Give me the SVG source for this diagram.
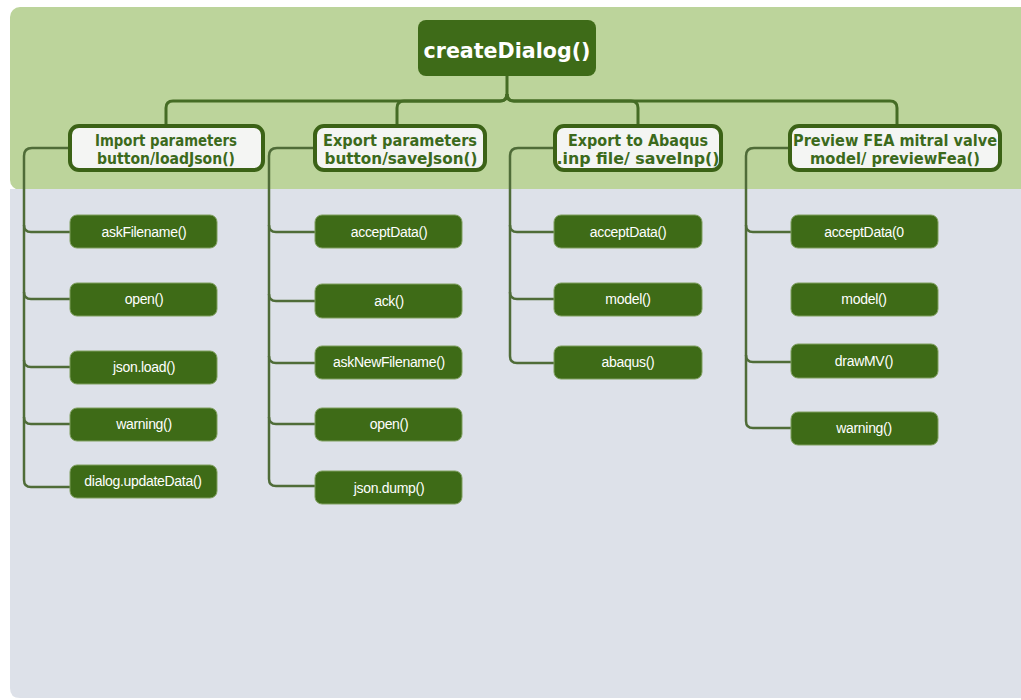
<svg xmlns="http://www.w3.org/2000/svg" width="1021" height="700" viewBox="0 0 1021 700">
  <defs>
    <style>
      .band { fill: #bcd49b; }
      .panel { fill: #dde1e9; }
      .root rect { fill: #3e6b18; }
      .root text { font-family: "DejaVu Sans", Verdana, sans-serif; font-weight: bold; font-size: 21px; fill: #ffffff; text-anchor: middle; }
      .branch rect { fill: #f4f5f3; stroke: #3b6216; stroke-width: 4; }
      .branch text { font-family: "DejaVu Sans", Verdana, sans-serif; font-weight: bold; font-size: 15px; fill: #3c6a1c; text-anchor: middle; }
      .leaf rect { fill: #3e6b17; stroke: #7f9f5f; stroke-width: 1; }
      .leaf text { font-family: "Liberation Sans", Arial, sans-serif; font-size: 14px; fill: #ffffff; text-anchor: middle; letter-spacing: -0.3px; }
      .top-link { fill: none; stroke: #456c25; stroke-width: 3; }
      .sub-link { fill: none; stroke: #4f6c38; stroke-width: 2.5; }
    </style>
  </defs>

  <!-- background bands -->
  <rect class="band" x="10" y="7" width="1030" height="183" rx="10"/>
  <path class="panel" d="M10,189 H1040 V698 H20 Q10,698 10,688 Z"/>

  <!-- connectors -->
  <g id="connectors">
    <path class="top-link" d="M507,76 V94 Q507,101 500,101 H173 Q166,101 166,108 V124"/>
    <path class="top-link" d="M507,94 Q507,101 500,101 H404 Q397,101 397,108 V124"/>
    <path class="top-link" d="M507,94 Q507,101 514,101 H631 Q638,101 638,108 V124"/>
    <path class="top-link" d="M507,94 Q507,101 514,101 H890 Q897,101 897,108 V124"/>

    <!-- import column -->
    <path class="sub-link" d="M68,148 H32 Q24,148 24,156 V480 Q24,487 31,487 H70"/>
    <path class="sub-link" d="M24,225 Q24,232 31,232 H70"/>
    <path class="sub-link" d="M24,292 Q24,299 31,299 H70"/>
    <path class="sub-link" d="M24,360 Q24,367 31,367 H70"/>
    <path class="sub-link" d="M24,417 Q24,424 31,424 H70"/>

    <!-- export parameters column -->
    <path class="sub-link" d="M313,148 H277 Q269,148 269,156 V479 Q269,486 276,486 H315"/>
    <path class="sub-link" d="M269,225 Q269,232 276,232 H315"/>
    <path class="sub-link" d="M269,294 Q269,301 276,301 H315"/>
    <path class="sub-link" d="M269,356 Q269,363 276,363 H315"/>
    <path class="sub-link" d="M269,417 Q269,424 276,424 H315"/>

    <!-- abaqus column -->
    <path class="sub-link" d="M553,148 H518 Q510,148 510,156 V356 Q510,363 517,363 H554"/>
    <path class="sub-link" d="M510,225 Q510,232 517,232 H554"/>
    <path class="sub-link" d="M510,292 Q510,299 517,299 H554"/>

    <!-- preview column -->
    <path class="sub-link" d="M788,148 H754 Q746,148 746,156 V421 Q746,428 753,428 H791"/>
    <path class="sub-link" d="M746,225 Q746,232 753,232 H791"/>
    <path class="sub-link" d="M746,355 Q746,362 753,362 H791"/>
  </g>

  <!-- root -->
  <g id="createDialog" class="root">
    <rect x="418" y="20" width="178" height="56" rx="8"/>
    <text x="507" y="58" textLength="167" lengthAdjust="spacingAndGlyphs">createDialog()</text>
  </g>

  <!-- first level -->
  <g id="importParameters" class="branch">
    <rect x="70" y="126" width="193" height="44" rx="9"/>
    <text x="166" y="146" textLength="142" lengthAdjust="spacingAndGlyphs">Import parameters</text>
    <text x="166" y="164" textLength="138" lengthAdjust="spacingAndGlyphs">button/loadJson()</text>
  </g>
  <g id="exportParameters" class="branch">
    <rect x="315" y="126" width="170" height="44" rx="9"/>
    <text x="400" y="146" textLength="154" lengthAdjust="spacingAndGlyphs">Export parameters</text>
    <text x="401" y="164" textLength="153" lengthAdjust="spacingAndGlyphs">button/saveJson()</text>
  </g>
  <g id="exportAbaqus" class="branch">
    <rect x="555" y="126" width="166" height="44" rx="9"/>
    <text x="638" y="146" textLength="140" lengthAdjust="spacingAndGlyphs">Export to Abaqus</text>
    <text x="638" y="164" textLength="163" lengthAdjust="spacingAndGlyphs">.inp file/ saveInp()</text>
  </g>
  <g id="previewFea" class="branch">
    <rect x="790" y="126" width="210" height="44" rx="9"/>
    <text x="895" y="146" textLength="204" lengthAdjust="spacingAndGlyphs">Preview FEA mitral valve</text>
    <text x="895" y="164" textLength="170" lengthAdjust="spacingAndGlyphs">model/ previewFea()</text>
  </g>

  <!-- import children -->
  <g id="askFilename" class="leaf"><rect x="70" y="215" width="147" height="33" rx="7"/><text x="144" y="237">askFilename()</text></g>
  <g id="open1" class="leaf"><rect x="70" y="283" width="147" height="33" rx="7"/><text x="144" y="304">open()</text></g>
  <g id="jsonLoad" class="leaf"><rect x="70" y="351" width="147" height="33" rx="7"/><text x="144" y="372">json.load()</text></g>
  <g id="warning1" class="leaf"><rect x="70" y="408" width="147" height="33" rx="7"/><text x="144" y="429">warning()</text></g>
  <g id="updateData" class="leaf"><rect x="70" y="465" width="147" height="33" rx="7"/><text x="143" y="486">dialog.updateData()</text></g>

  <!-- export parameters children -->
  <g id="acceptData1" class="leaf"><rect x="315" y="215" width="147" height="33" rx="7"/><text x="389" y="237">acceptData()</text></g>
  <g id="ack" class="leaf"><rect x="315" y="284" width="147" height="34" rx="7"/><text x="389" y="306">ack()</text></g>
  <g id="askNewFilename" class="leaf"><rect x="315" y="346" width="147" height="33" rx="7"/><text x="389" y="367">askNewFilename()</text></g>
  <g id="open2" class="leaf"><rect x="315" y="408" width="147" height="33" rx="7"/><text x="389" y="429">open()</text></g>
  <g id="jsonDump" class="leaf"><rect x="315" y="471" width="147" height="33" rx="7"/><text x="389" y="493">json.dump()</text></g>

  <!-- abaqus children -->
  <g id="acceptData2" class="leaf"><rect x="554" y="215" width="148" height="33" rx="7"/><text x="628" y="237">acceptData()</text></g>
  <g id="model1" class="leaf"><rect x="554" y="283" width="148" height="33" rx="7"/><text x="628" y="304">model()</text></g>
  <g id="abaqus" class="leaf"><rect x="554" y="346" width="148" height="33" rx="7"/><text x="628" y="367">abaqus()</text></g>

  <!-- preview children -->
  <g id="acceptData3" class="leaf"><rect x="791" y="215" width="147" height="33" rx="7"/><text x="864" y="237">acceptData(0</text></g>
  <g id="model2" class="leaf"><rect x="791" y="283" width="147" height="33" rx="7"/><text x="864" y="304">model()</text></g>
  <g id="drawMV" class="leaf"><rect x="791" y="344" width="147" height="34" rx="7"/><text x="864" y="366">drawMV()</text></g>
  <g id="warning2" class="leaf"><rect x="791" y="412" width="147" height="33" rx="7"/><text x="864" y="433">warning()</text></g>
</svg>
